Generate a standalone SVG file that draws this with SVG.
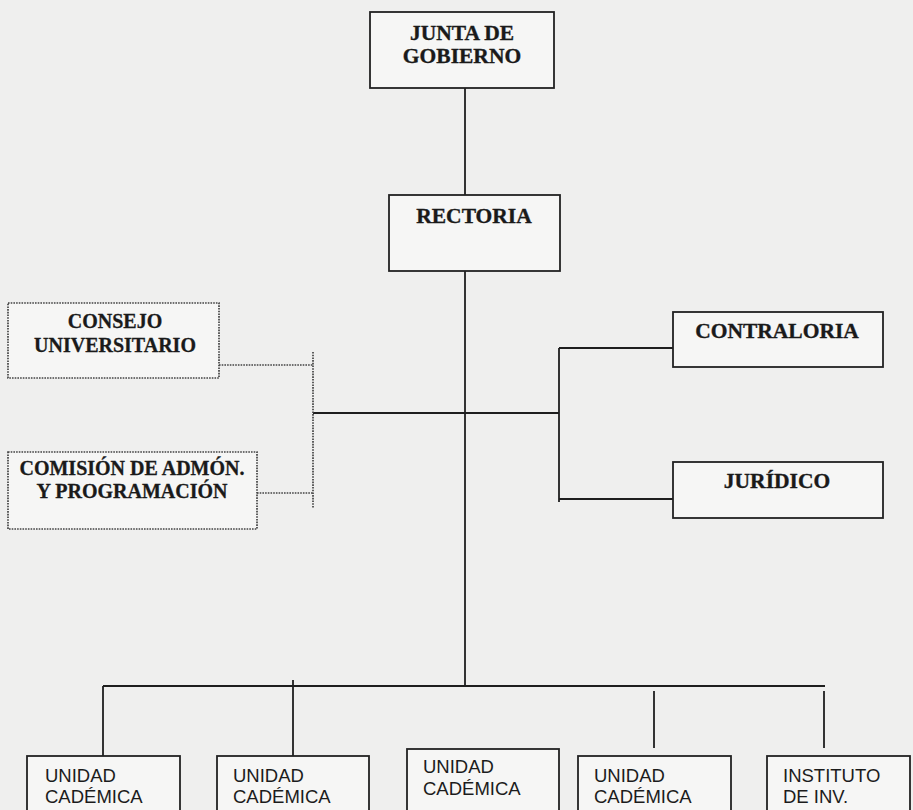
<svg xmlns="http://www.w3.org/2000/svg" width="913" height="810" viewBox="0 0 913 810">
  <style>
    .box { fill: #f6f6f5; stroke: #222; stroke-width: 1.8; }
    .dbox { fill: #f6f6f5; stroke: #444; stroke-width: 1.7; stroke-dasharray: 1.6 1.1; }
    .head { font-family: "Liberation Serif", "Times New Roman", serif; font-weight: bold; font-size: 21.5px; fill: #1a1a1a; stroke: #1a1a1a; stroke-width: 0.35; text-anchor: middle; }
    .head-s { font-family: "Liberation Serif", "Times New Roman", serif; font-weight: bold; font-size: 20px; fill: #1a1a1a; stroke: #1a1a1a; stroke-width: 0.3; text-anchor: middle; }
    .unit { font-family: "Liberation Sans", Arial, sans-serif; font-size: 18.5px; fill: #1c1c1c; }
    .line { stroke: #1e1e1e; stroke-width: 1.8; fill: none; }
    .dline { stroke: #444; stroke-width: 1.7; stroke-dasharray: 1.6 1.1; fill: none; }
  </style>

  <!-- paper background -->
  <rect x="0" y="0" width="913" height="810" fill="#efefee"/>

  <!-- connectors -->
  <g id="connectors">
    <line class="line" x1="465" y1="88" x2="465" y2="195"/>
    <line class="line" x1="465" y1="271" x2="465" y2="686"/>
    <line class="line" x1="313" y1="413" x2="559" y2="413"/>
    <line class="line" x1="559" y1="348" x2="559" y2="502"/>
    <line class="line" x1="559" y1="348" x2="673" y2="348"/>
    <line class="line" x1="559" y1="499" x2="673" y2="499"/>
    <line class="dline" x1="313" y1="352" x2="313" y2="508"/>
    <line class="dline" x1="219" y1="365" x2="313" y2="365"/>
    <line class="dline" x1="257" y1="493" x2="313" y2="493"/>
    <line class="line" x1="103" y1="686" x2="825" y2="686"/>
    <line class="line" x1="103" y1="686" x2="103" y2="756"/>
    <line class="line" x1="293" y1="680" x2="293" y2="756"/>
    <line class="line" x1="654" y1="691" x2="654" y2="748"/>
    <line class="line" x1="824" y1="691" x2="824" y2="748"/>
  </g>

  <g id="junta">
    <rect class="box" x="370" y="12" width="184" height="76"/>
    <text class="head" x="462" y="40">JUNTA DE</text>
    <text class="head" x="462" y="63">GOBIERNO</text>
  </g>

  <g id="rectoria">
    <rect class="box" x="389" y="195" width="171" height="76"/>
    <text class="head" x="474" y="223">RECTORIA</text>
  </g>

  <g id="consejo">
    <rect class="dbox" x="8" y="303" width="211" height="75"/>
    <text class="head-s" x="115" y="328">CONSEJO</text>
    <text class="head-s" x="115" y="352">UNIVERSITARIO</text>
  </g>

  <g id="comision">
    <rect class="dbox" x="8" y="452" width="249" height="77"/>
    <text class="head-s" x="132" y="475">COMISIÓN DE ADMÓN.</text>
    <text class="head-s" x="132" y="498">Y PROGRAMACIÓN</text>
  </g>

  <g id="contraloria">
    <rect class="box" x="673" y="312" width="210" height="55"/>
    <text class="head" x="777" y="338">CONTRALORIA</text>
  </g>

  <g id="juridico">
    <rect class="box" x="673" y="462" width="210" height="56"/>
    <text class="head" x="777" y="488">JURÍDICO</text>
  </g>

  <g id="unidad-1">
    <rect class="box" x="27" y="756" width="153" height="70"/>
    <text class="unit" x="45" y="782">UNIDAD</text>
    <text class="unit" x="45" y="803">CADÉMICA</text>
  </g>

  <g id="unidad-2">
    <rect class="box" x="217" y="756" width="152" height="70"/>
    <text class="unit" x="233" y="782">UNIDAD</text>
    <text class="unit" x="233" y="803">CADÉMICA</text>
  </g>

  <g id="unidad-3">
    <rect class="box" x="407" y="749" width="152" height="70"/>
    <text class="unit" x="423" y="773">UNIDAD</text>
    <text class="unit" x="423" y="795">CADÉMICA</text>
  </g>

  <g id="unidad-4">
    <rect class="box" x="578" y="756" width="153" height="70"/>
    <text class="unit" x="594" y="782">UNIDAD</text>
    <text class="unit" x="594" y="803">CADÉMICA</text>
  </g>

  <g id="instituto">
    <rect class="box" x="767" y="756" width="143" height="70"/>
    <text class="unit" x="783" y="782">INSTITUTO</text>
    <text class="unit" x="783" y="803">DE INV.</text>
  </g>
</svg>
